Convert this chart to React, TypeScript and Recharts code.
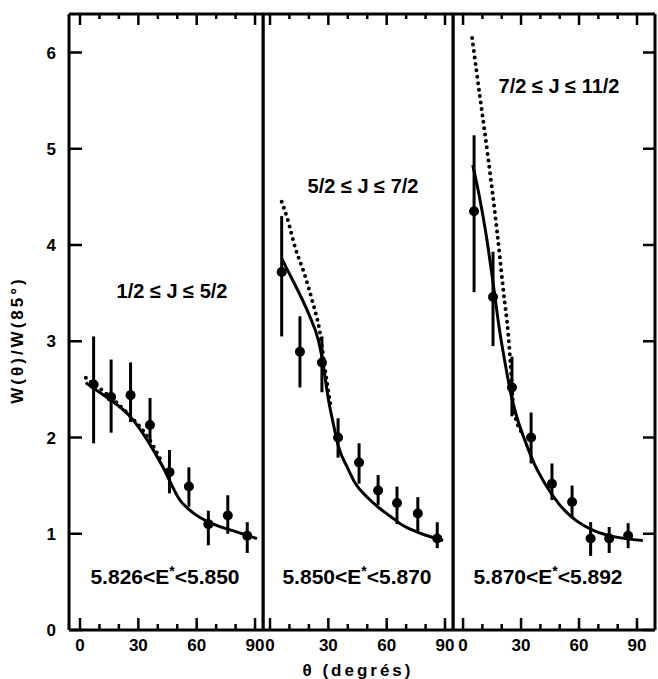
import React from 'react';
import { ComposedChart, Line, Scatter, ErrorBar, XAxis, YAxis } from 'recharts';

const X_TICKS = [0, 10, 20, 30, 40, 50, 60, 70, 80, 90];
const X_LABELS = [0, 30, 60, 90];
const Y_TICKS = [0, 1, 2, 3, 4, 5, 6];

// panel 1 : 1/2 <= J <= 5/2
const P1_THETA = [7, 16, 26, 36, 46, 56, 66, 76, 86];
const P1_W = [2.55, 2.42, 2.44, 2.13, 1.64, 1.49, 1.1, 1.19, 0.98];
const P1_LO = [1.94, 2.05, 2.16, 1.94, 1.42, 1.28, 0.88, 1.0, 0.8];
const P1_HI = [3.05, 2.81, 2.78, 2.41, 1.87, 1.69, 1.24, 1.4, 1.12];
const P1_FIT_THETA = [3, 10, 16.5, 25.7, 35, 42.7, 51.4, 58, 68.6, 78.9, 91];
const P1_FIT_W = [2.57, 2.47, 2.38, 2.22, 1.96, 1.69, 1.35, 1.22, 1.1, 1.03, 0.95];
const P1_DOT_THETA = [3, 15, 25, 35, 42];
const P1_DOT_W = [2.62, 2.43, 2.24, 2.0, 1.75];

// panel 2 : 5/2 <= J <= 7/2
const P2_THETA = [6, 15.4, 26.7, 35, 45.8, 55.6, 65.3, 76, 86];
const P2_W = [3.72, 2.89, 2.78, 2.0, 1.74, 1.45, 1.32, 1.21, 0.95];
const P2_LO = [3.05, 2.52, 2.47, 1.79, 1.52, 1.3, 1.1, 1.01, 0.85];
const P2_HI = [4.3, 3.26, 3.05, 2.2, 1.94, 1.61, 1.49, 1.38, 1.12];
const P2_FIT_THETA = [6, 10, 15, 20, 25, 27, 30, 33, 35, 40, 44, 50, 56, 62, 68, 78, 89];
const P2_FIT_W = [3.86, 3.7, 3.5, 3.28, 3.0, 2.8, 2.4, 2.1, 1.92, 1.68, 1.52, 1.38, 1.27, 1.18, 1.09, 1.0, 0.93];
const P2_DOT_THETA = [6, 9, 13, 18, 22, 25.7, 28, 31];
const P2_DOT_W = [4.45, 4.27, 3.97, 3.68, 3.4, 3.09, 2.75, 2.35];

// panel 3 : 7/2 <= J <= 11/2
const P3_THETA = [5.7, 15.5, 25.3, 35.2, 46, 56.4, 66, 75.6, 85.4];
const P3_W = [4.35, 3.46, 2.52, 2.0, 1.52, 1.33, 0.95, 0.95, 0.98];
const P3_LO = [3.51, 2.95, 2.22, 1.73, 1.35, 1.17, 0.77, 0.8, 0.85];
const P3_HI = [5.14, 3.93, 2.84, 2.26, 1.73, 1.5, 1.12, 1.07, 1.11];
const P3_FIT_THETA = [5, 8, 12, 15.5, 19, 21.7, 25, 28, 32, 37, 42.4, 50, 56.4, 62, 68, 78, 93];
const P3_FIT_W = [4.83, 4.55, 4.1, 3.61, 3.1, 2.78, 2.43, 2.2, 1.97, 1.72, 1.52, 1.3, 1.17, 1.09, 1.03, 0.97, 0.93];
const P3_DOT_THETA = [4.7, 8.8, 13, 17.6, 21, 23.3, 24.5, 26, 28, 30.5];
const P3_DOT_W = [6.15, 5.53, 4.9, 4.14, 3.5, 3.09, 2.78, 2.32, 2.15, 2.05];

const SPIN_LABELS = ['1/2 \u2264 J \u2264 5/2', '5/2 \u2264 J \u2264 7/2', '7/2 \u2264 J \u2264 11/2'];
const ENERGY_RANGES = [['5.826', '5.850'], ['5.850', '5.870'], ['5.870', '5.892']];

const FONT = '"Liberation Sans", Arial, sans-serif';
const INK = 'black';
const Y_MAX = 6.4;

const points = (t: number[], w: number[], lo: number[], hi: number[]) =>
  t.map((x, i) => ({ x, y: w[i], err: [w[i] - lo[i], hi[i] - w[i]] }));
const curve = (t: number[], w: number[]) => t.map((x, i) => ({ x, y: w[i] }));

const BottomLabel = (props: any) => {
  const { x, y, payload } = props;
  const v = payload.value;
  if (!X_LABELS.includes(v)) return <g />;
  return (
    <text x={x} y={y + 21} textAnchor="middle" fontFamily={FONT} fontWeight="bold" fontSize={17} fill={INK}>
      {v}
    </text>
  );
};

const LeftLabel = (props: any) => {
  const { x, y, payload } = props;
  return (
    <text x={x - 13} y={y} dy="0.36em" textAnchor="end" fontFamily={FONT} fontWeight="bold" fontSize={17} fill={INK}>
      {payload.value}
    </text>
  );
};

const NoTick = () => <g />;

const Dot = (props: any) => <circle cx={props.cx} cy={props.cy} r={5} fill={INK} />;

// inward frame ticks, placed through the chart scales
const TickMark = (props: any) => {
  const { cx, cy, payload } = props;
  const len = payload.len;
  const side = payload.side;
  const end =
    side === 'b' ? [cx, cy - len] : side === 't' ? [cx, cy + len] : side === 'l' ? [cx + len, cy] : [cx - len, cy];
  return <line x1={cx} y1={cy} x2={end[0]} y2={end[1]} stroke={INK} strokeWidth={2.5} />;
};

const frameTicks = (domain: number[], leftAxis: boolean, rightTicks: boolean) => {
  const out: any[] = [];
  X_TICKS.forEach((v) => {
    const len = X_LABELS.includes(v) ? 12 : 6;
    out.push({ x: v, y: 0, side: 'b', len });
    out.push({ x: v, y: Y_MAX, side: 't', len: len - 1 });
  });
  Y_TICKS.forEach((v) => {
    if (leftAxis) out.push({ x: domain[0], y: v, side: 'l', len: 13 });
    if (rightTicks) out.push({ x: domain[1], y: v, side: 'r', len: 12 });
  });
  return out;
};

const Panel = ({ left, width, domain, pts, fit, dots, leftAxis, rightTicks }: any) => (
  <div style={{ position: 'absolute', left, top: 0 }}>
    <ComposedChart width={width} height={679} margin={{ top: 13, right: 1, bottom: 0, left: 0 }}>
      <XAxis
        type="number"
        dataKey="x"
        domain={domain}
        ticks={X_TICKS}
        interval={0}
        height={49}
        tickSize={0}
        tickMargin={0}
        tickLine={false}
        tick={BottomLabel}
        axisLine={{ stroke: INK, strokeWidth: 3 }}
      />
      <XAxis
        xAxisId="top"
        orientation="top"
        type="number"
        dataKey="x"
        domain={domain}
        ticks={X_TICKS}
        height={1}
        tickSize={0}
        tickLine={false}
        tick={NoTick}
        axisLine={{ stroke: INK, strokeWidth: 3 }}
      />
      <YAxis
        type="number"
        domain={[0, Y_MAX]}
        ticks={Y_TICKS}
        interval={0}
        width={leftAxis ? 69 : 1}
        tickSize={0}
        tickMargin={0}
        tickLine={false}
        tick={leftAxis ? LeftLabel : NoTick}
        axisLine={{ stroke: INK, strokeWidth: 3 }}
      />
      <YAxis
        yAxisId="r"
        orientation="right"
        type="number"
        domain={[0, Y_MAX]}
        ticks={Y_TICKS}
        width={1}
        tickSize={0}
        tickLine={false}
        tick={NoTick}
        axisLine={{ stroke: INK, strokeWidth: 3 }}
      />
      <Scatter data={frameTicks(domain, leftAxis, rightTicks)} dataKey="y" shape={TickMark} legendType="none" isAnimationActive={false} />
      <Line
        data={dots}
        dataKey="y"
        type="monotone"
        stroke={INK}
        strokeWidth={4}
        strokeDasharray="0 6.5"
        strokeLinecap="round"
        dot={false}
        activeDot={false}
        isAnimationActive={false}
      />
      <Line data={fit} dataKey="y" type="monotone" stroke={INK} strokeWidth={3} dot={false} activeDot={false} isAnimationActive={false} />
      <Scatter data={pts} dataKey="y" shape={Dot} isAnimationActive={false}>
        <ErrorBar dataKey="err" direction="y" width={0} stroke={INK} strokeWidth={3} isAnimationActive={false} />
      </Scatter>
    </ComposedChart>
  </div>
);

const PANELS = [
  { left: 0, width: 265, domain: [-5.66, 94.1] },
  { left: 262, width: 193, domain: [-3.6, 94.1] },
  { left: 452, width: 205, domain: [-5.2, 99.3] },
];

const SPIN_POS = [[172, 281], [363, 176], [559, 76]];
const ENERGY_POS = [165, 357, 548];

const textBox = (cx: number, top: number, size: number): React.CSSProperties => ({
  position: 'absolute',
  left: cx - 110,
  top,
  width: 220,
  textAlign: 'center',
  fontFamily: FONT,
  fontWeight: 'bold',
  fontSize: size,
  lineHeight: `${size}px`,
  whiteSpace: 'nowrap',
  color: INK,
});

export default function App() {
  const data = [
    { pts: points(P1_THETA, P1_W, P1_LO, P1_HI), fit: curve(P1_FIT_THETA, P1_FIT_W), dots: curve(P1_DOT_THETA, P1_DOT_W) },
    { pts: points(P2_THETA, P2_W, P2_LO, P2_HI), fit: curve(P2_FIT_THETA, P2_FIT_W), dots: curve(P2_DOT_THETA, P2_DOT_W) },
    { pts: points(P3_THETA, P3_W, P3_LO, P3_HI), fit: curve(P3_FIT_THETA, P3_FIT_W), dots: curve(P3_DOT_THETA, P3_DOT_W) },
  ];
  return (
    <div style={{ position: 'absolute', left: 0, top: 0, width: 658, height: 679, background: '#fff' }}>
      {PANELS.map((p, i) => (
        <Panel key={i} {...p} {...data[i]} leftAxis={i === 0} rightTicks={i === 2} />
      ))}
      <div
        style={{
          position: 'absolute',
          left: 17,
          top: 340,
          transform: 'translate(-50%, -50%) rotate(-90deg)',
          fontFamily: FONT,
          fontWeight: 'bold',
          fontSize: 17,
          lineHeight: '17px',
          letterSpacing: 3,
          whiteSpace: 'nowrap',
        }}
      >
        W(θ)/W(85°)
      </div>
      <div style={{ ...textBox(358, 662, 17), letterSpacing: 3 }}>θ (degrés)</div>
      {SPIN_LABELS.map((s, i) => (
        <div key={s} style={textBox(SPIN_POS[i][0], SPIN_POS[i][1], 20)}>
          {s}
        </div>
      ))}
      {ENERGY_RANGES.map(([a, b], i) => (
        <div key={a} style={textBox(ENERGY_POS[i], 566, 21)}>
          {a}&lt;E<span style={{ fontSize: 14, position: 'relative', top: -8 }}>*</span>&lt;{b}
        </div>
      ))}
    </div>
  );
}
